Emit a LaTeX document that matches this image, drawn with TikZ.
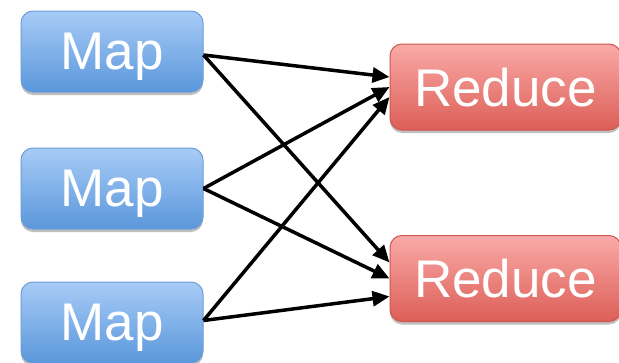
\documentclass[tikz,border=0pt]{standalone}
\usepackage{fontspec}
\setmainfont{Liberation Sans}
\usetikzlibrary{arrows.meta,shadows}
\definecolor{maptop}{HTML}{A8CBF7}
\definecolor{mapbot}{HTML}{5A97DB}
\definecolor{mapline}{HTML}{6D9ED6}
\definecolor{redtop}{HTML}{FAAAA7}
\definecolor{redbot}{HTML}{DC5E57}
\definecolor{redline}{HTML}{CC5650}
\tikzset{
  box/.style={rounded corners=12pt, line width=1pt, text=white,
    font=\fontsize{53}{60}\selectfont, inner sep=0pt, text depth=0pt,
    drop shadow={shadow xshift=0pt, shadow yshift=-3pt, opacity=0.25, fill=black}},
  mapbox/.style={box, draw=mapline, top color=maptop, bottom color=mapbot,
    minimum width=182pt, minimum height=81pt},
  redbox/.style={box, draw=redline, top color=redtop, bottom color=redbot,
    minimum width=231pt, minimum height=86pt},
  link/.style={line width=3.5pt, -{Triangle[length=17pt,width=15pt]}}
}
\begin{document}
\begin{tikzpicture}[x=1pt,y=-1pt]
\useasboundingbox (0,0) rectangle (619,362);
\node[mapbox] (m1) at (112,51.5) {Map};
\node[mapbox] (m2) at (112,188.5) {Map};
\node[mapbox] (m3) at (112,322.5) {Map};
\node[redbox] (r1) at (505.5,87) {Reduce};
\node[redbox] (r2) at (505.5,278.5) {Reduce};
\coordinate (s1) at ([yshift=-3.5pt]m1.east);
\coordinate (s2) at ([yshift=0pt]m2.east);
\coordinate (s3) at ([yshift=2pt]m3.east);
\coordinate (a1) at ([yshift=10pt]r1.west);
\coordinate (a2) at ([yshift=0pt]r1.west);
\coordinate (a3) at ([yshift=-10pt]r1.west);
\coordinate (b1) at ([yshift=16pt]r2.west);
\coordinate (b2) at ([yshift=0pt]r2.west);
\coordinate (b3) at ([yshift=-18pt]r2.west);
\draw[link] (s1) -- (a1);
\draw[link] (s1) -- (b1);
\draw[link] (s2) -- (a2);
\draw[link] (s2) -- (b2);
\draw[link] (s3) -- (a3);
\draw[link] (s3) -- (b3);
\end{tikzpicture}
\end{document}
